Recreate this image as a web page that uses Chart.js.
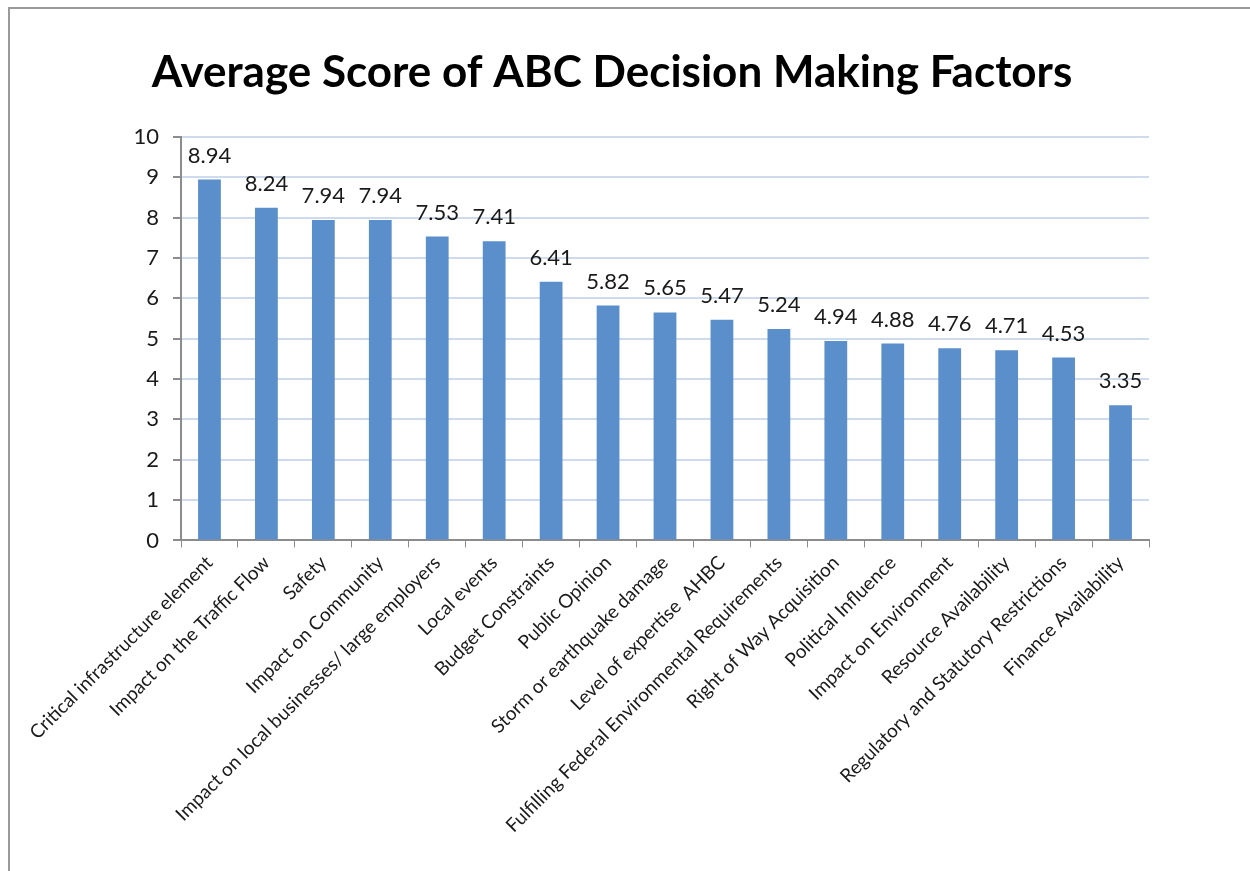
<!DOCTYPE html>
<html>
<head>
<meta charset="utf-8">
<script src="https://cdn.jsdelivr.net/npm/chart.js@4.4.1/dist/chart.umd.min.js"></script>
<style>
    html, body { margin: 0; padding: 0; background: #fff; }
    #frame {
        position: absolute; left: 8px; top: 7px; width: 1250px; height: 862px;
        border-left: 2px solid #9a9a9a; border-top: 2px solid #9a9a9a;
        border-bottom: 1px solid #e4e4e4;
    }
    #wrap { position: absolute; left: 0; top: 0; width: 1250px; height: 871px; }
</style>
</head>
<body>
<div id="frame"></div>
<div id="wrap"><canvas id="chart"></canvas></div>
<script>
// Data
const factors = [
    'Critical infrastructure element',
    'Impact on the Traffic Flow',
    'Safety',
    'Impact on Community',
    'Impact on local businesses/ large employers',
    'Local events',
    'Budget Constraints',
    'Public Opinion',
    'Storm or earthquake damage',
    'Level of expertise  AHBC',
    'Fulfilling Federal Environmental Requirements',
    'Right of Way Acquisition',
    'Political Influence',
    'Impact on Environment',
    'Resource Availability',
    'Regulatory and Statutory Restrictions',
    'Finance Availability'
];
const avgScores = [8.94, 8.24, 7.94, 7.94, 7.53, 7.41, 6.41, 5.82, 5.65, 5.47, 5.24, 4.94, 4.88, 4.76, 4.71, 4.53, 3.35];
const yTicks = [0, 1, 2, 3, 4, 5, 6, 7, 8, 9, 10];

const FONT = 'Lato, "Open Sans", sans-serif';

// Simple value labels above each bar
const valueLabels = {
    id: 'valueLabels',
    afterDatasetsDraw(chart) {
        const ctx = chart.ctx;
        const meta = chart.getDatasetMeta(0);
        ctx.save();
        ctx.font = '22px ' + FONT;
        ctx.fillStyle = '#1a1a1a';
        ctx.textAlign = 'center';
        ctx.textBaseline = 'bottom';
        meta.data.forEach((bar, i) => {
            ctx.fillText(avgScores[i].toFixed(2), bar.x, bar.y - 13);
        });
        ctx.restore();
    }
};

new Chart(document.getElementById('chart'), {
    type: 'bar',
    data: {
        labels: factors,
        datasets: [{
            label: 'Average Score',
            data: avgScores,
            backgroundColor: '#5b8fcb',
            barPercentage: 0.8,
            categoryPercentage: 0.5
        }]
    },
    options: {
        responsive: true,
        maintainAspectRatio: false,
        animation: false,
        layout: {
            padding: { left: 75, right: 101, top: 35, bottom: 30 }
        },
        plugins: {
            legend: { display: false },
            tooltip: { enabled: false },
            title: {
                display: true,
                text: 'Average Score of ABC Decision Making Factors',
                font: { family: FONT, size: 44, weight: 'bold' },
                color: '#000',
                padding: { top: 11, bottom: 38 }
            }
        },
        scales: {
            x: {
                grid: {
                    drawOnChartArea: false,
                    drawTicks: true,
                    tickLength: 7,
                    tickColor: '#8c8c8c',
                    offset: true
                },
                border: { color: '#8c8c8c', width: 2 },
                ticks: {
                    color: '#1a1a1a',
                    font: { family: FONT, size: 19 },
                    maxRotation: 45,
                    minRotation: 45,
                    autoSkip: false,
                    padding: 4
                }
            },
            y: {
                min: 0,
                max: 10,
                afterBuildTicks: axis => {
                    axis.ticks = yTicks.map(v => ({ value: v }));
                },
                afterFit: axis => {
                    axis.width = 106;
                },
                grid: {
                    color: '#cddbed',
                    lineWidth: 2,
                    tickLength: 8,
                    tickColor: '#8c8c8c'
                },
                border: { color: '#8c8c8c', width: 2 },
                ticks: {
                    color: '#1a1a1a',
                    font: { family: FONT, size: 22 },
                    padding: 14
                }
            }
        }
    },
    plugins: [valueLabels]
});
</script>
</body>
</html>
